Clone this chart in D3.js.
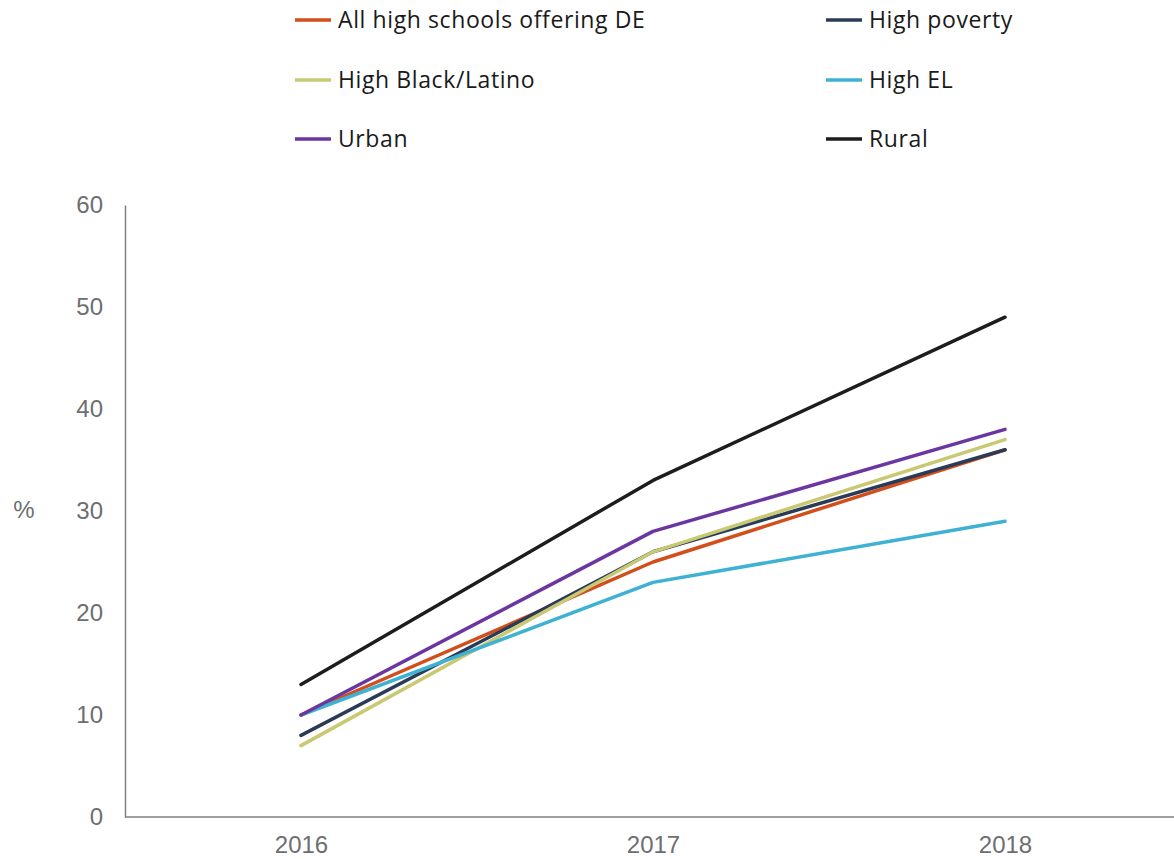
<!DOCTYPE html>
<html><head><meta charset="utf-8">
<script src="https://cdn.jsdelivr.net/npm/d3@7"></script>
<style>body{margin:0;background:#fff;} svg{display:block;font-family:"Open Sans", sans-serif;}</style>
</head><body>
<svg id="chart" width="1174" height="859"></svg>
<script>
const years = ["2016", "2017", "2018"];
const seriesNames = ["All high schools offering DE", "High poverty", "High Black/Latino", "High EL", "Urban", "Rural"];
const allSchools = [10, 25, 36];
const highPoverty = [8, 26, 36];
const highBlackLatino = [7, 26, 37];
const highEL = [10, 23, 29];
const urban = [10, 28, 38];
const rural = [13, 33, 49];
const colors = ["#D24E1B", "#2A3B57", "#C9C873", "#3FB1D3", "#6C36A0", "#1D1D1B"];
const yTicks = [0, 10, 20, 30, 40, 50, 60];

const seriesValues = [allSchools, highPoverty, highBlackLatino, highEL, urban, rural];
const series = seriesNames.map((n, i) => ({name: n, values: seriesValues[i], color: colors[i]}));

const svg = d3.select("#chart");
const x = d3.scalePoint().domain(years).range([301, 1005]);
const y = d3.scaleLinear().domain([0, 60]).range([817, 205]);
const axisColor = "#7f8083", textColor = "#6d6e71";
const tickFont = "'Liberation Sans', Arial, sans-serif";

// y axis
const yAxis = svg.append("g").attr("transform", "translate(125,0)")
  .call(d3.axisLeft(y).tickValues(yTicks).tickSize(0).tickPadding(22));
yAxis.select(".domain").attr("stroke", axisColor).attr("stroke-width", 1.5);
yAxis.selectAll("text").attr("fill", textColor).style("font-size", "24px").style("font-family", tickFont);

// x axis
const xAxis = svg.append("g").attr("transform", "translate(0,817)")
  .call(d3.axisBottom(x).tickSize(0).tickPadding(19));
xAxis.select(".domain").attr("d", "M125,0H1174").attr("stroke", axisColor).attr("stroke-width", 1.5);
xAxis.selectAll("text").attr("fill", textColor).style("font-size", "24px").style("font-family", tickFont);

svg.append("text").attr("x", 24).attr("y", 510).attr("dy", "0.35em").attr("text-anchor", "middle")
  .attr("fill", textColor).style("font-size", "24px").style("font-family", tickFont).text("%");

// lines
const line = d3.line().x((d, i) => x(years[i])).y(d => y(d));
svg.append("g").selectAll("path").data(series).join("path")
  .attr("d", d => line(d.values)).attr("fill", "none")
  .attr("stroke", d => d.color).attr("stroke-width", 3.5)
  .attr("stroke-linecap", "round").attr("stroke-linejoin", "round");

// legend
const legendCols = [295, 826], legendRows = [20, 80, 139];
const lg = svg.append("g").selectAll("g").data(series).join("g")
  .attr("transform", (d, i) => `translate(${legendCols[i % 2]},${legendRows[Math.floor(i / 2)]})`);
lg.append("line").attr("x1", 0).attr("x2", 36).attr("y1", 0).attr("y2", 0)
  .attr("stroke", d => d.color).attr("stroke-width", 3.5);
lg.append("text").attr("x", 43).attr("y", 0).attr("dy", "0.35em")
  .attr("fill", "#1a1a1a").style("font-size", "23px").style("letter-spacing", "0.6px").text(d => d.name);
</script>
</body></html>
